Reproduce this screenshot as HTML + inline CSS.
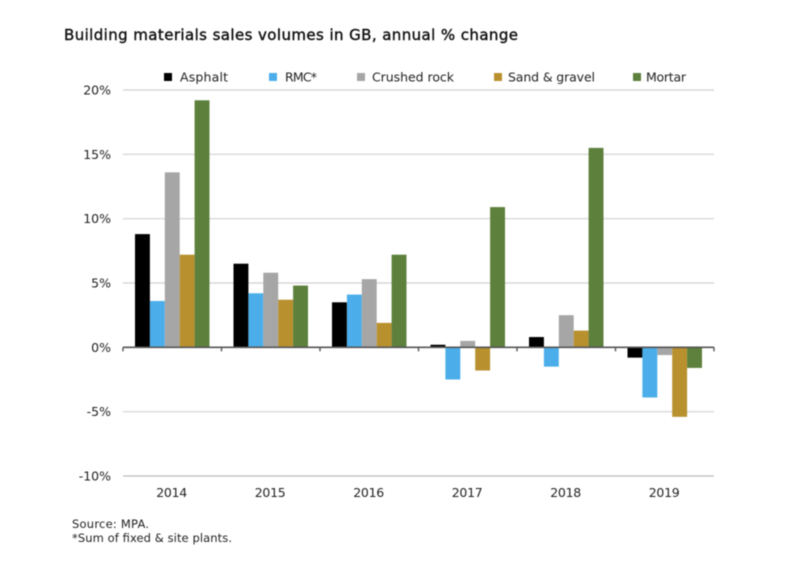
<!DOCTYPE html>
<html>
<head>
<meta charset="utf-8">
<title>Building materials sales volumes</title>
<style>
html,body{margin:0;padding:0;background:#fff;}
svg{display:block;filter:blur(0.45px);}
text{font-family:"DejaVu Sans","Liberation Sans",sans-serif;fill:#222;}
</style>
</head>
<body>
<svg id="chart" width="800" height="574" viewBox="0 0 800 574" xmlns="http://www.w3.org/2000/svg">
<rect width="800" height="574" fill="#fff"/>
<text x="64" y="40" font-size="15" textLength="454" lengthAdjust="spacing" style="fill:#111;stroke:#111;stroke-width:0.4">Building materials sales volumes in GB, annual % change</text>
<text x="72" y="528" font-size="11.5" textLength="77" lengthAdjust="spacing">Source: MPA.</text>
<text x="72" y="542" font-size="11.5" textLength="160" lengthAdjust="spacing">*Sum of fixed &amp; site plants.</text>
</svg>
<script>
const categories = ['2014','2015','2016','2017','2018','2019'];
const seriesNames = ['Asphalt','RMC*','Crushed rock','Sand & gravel','Mortar'];
const asphalt = [8.8,6.5,3.5,0.2,0.8,-0.8];
const rmc = [3.6,4.2,4.1,-2.5,-1.5,-3.9];
const crushedRock = [13.6,5.8,5.3,0.5,2.5,-0.6];
const sandGravel = [7.2,3.7,1.9,-1.8,1.3,-5.4];
const mortar = [19.2,4.8,7.2,10.9,15.5,-1.6];
const yTicks = [20,15,10,5,0,-5,-10];

const seriesValues = [asphalt,rmc,crushedRock,sandGravel,mortar];
const colors = ['#000000','#4baeea','#a6a6a6','#b8902e','#5d803c'];
const legendX = [164,269,357,494,633];
const legendTextX = [180,285,372,508,646];
const legendLen = [48,32,82,87,40];

const svg = document.getElementById('chart');
const NS = 'http://www.w3.org/2000/svg';
const left = 123, right = 714, top0 = 90, bottom0 = 476;
const y = v => top0 + (20 - v) * (bottom0 - top0) / 30;
const band = (right - left) / categories.length;
const barW = 14.9;
const x = (c, s) => left + band * c + (band - barW * 5) / 2 + s * barW;

function make(tag, attrs, txt){
  const el = document.createElementNS(NS, tag);
  for (const k in attrs) el.setAttribute(k, attrs[k]);
  if (txt !== undefined) el.textContent = txt;
  svg.appendChild(el);
  return el;
}

yTicks.forEach(t => {
  if (t !== 0) {
    const g = make('line', {x1:left, x2:right, y1:y(t), y2:y(t), stroke: t === -10 ? '#bdbdbd' : '#d0d0d0', 'stroke-width':1.2});
    
    
  }
  const l = make('text', {x:111, y:y(t)+4.5, 'text-anchor':'end', 'font-size':12.5}, t + '%');
  
  
});

seriesValues.forEach((vals, s) => {
  vals.forEach((v, c) => {
    const r = make('rect', {x:x(c,s), width:barW, y:Math.min(y(v),y(0)), height:Math.abs(y(v)-y(0)), fill:colors[s]});
    
    
  });
});

const axis = make('line', {x1:left, x2:right, y1:y(0), y2:y(0), stroke:'#555', 'stroke-width':1.6});


for (let i = 0; i <= categories.length; i++) {
  const t = make('line', {x1:left+band*i, x2:left+band*i, y1:y(0), y2:y(0)+4, stroke:'#555', 'stroke-width':1.4});
  
  
}
categories.forEach((cat, c) => {
  const t = make('text', {x:left+band*(c+0.5)-0.5, y:497, 'text-anchor':'middle', 'font-size':12.5, textLength:31, lengthAdjust:'spacing'}, cat);
  
  
});

seriesNames.forEach((name, s) => {
  const k = make('rect', {x:legendX[s], y:73, width:8, height:8, fill:colors[s]});
  
  
  const t = make('text', {x:legendTextX[s], y:81.5, 'font-size':12.5, textLength:legendLen[s], lengthAdjust:'spacing'}, name);
  
  
});
</script>
</body>
</html>
